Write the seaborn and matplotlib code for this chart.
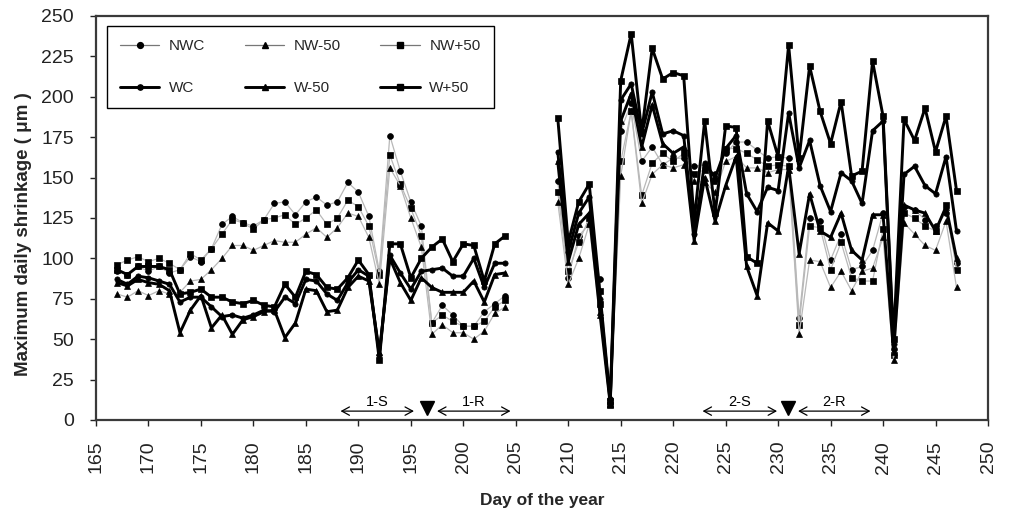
import numpy as np
import pandas as pd
import matplotlib
matplotlib.use("Agg")
import matplotlib.pyplot as plt
from matplotlib.lines import Line2D
import seaborn as sns

# ---------------- data ----------------
days_p1 = list(range(167, 205))
days_p2 = list(range(209, 248))

nwc_p1 = [92, 90, 95, 92, 95, 91,
          93, 101, 98, 106,
          121, 126, 122, 120, 124, 134, 135, 127,
          135, 138, 133, 135, 147, 141, 126, 92, 176, 154, 135, 120,
          60, 71, 65, 58, 58, 67, 72, 77]
nwp50_p1 = [96, 99, 101, 98, 100, 97,
            93, 103, 99, 106,
            115, 124, 122, 118, 124, 125, 127, 121,
            125, 130, 121, 125, 136, 132, 120, 90, 164, 146, 131, 114,
            60, 65, 61, 58, 58, 61, 70, 74]
nwm50_p1 = [78, 76, 80, 77, 80, 78,
            79, 86, 87, 93,
            100, 108, 108, 105, 108, 111, 110, 110,
            115, 119, 113, 119, 128, 126, 113, 84, 156, 145, 125, 107,
            53, 59, 54, 54, 50, 55, 66, 70]
wp50_p1 = [93, 90, 95, 95, 95, 93,
           78, 79, 81, 76, 76, 73, 72, 74, 71, 70, 84, 76,
           92, 90, 82, 81, 88, 99, 90, 37, 109, 109, 88, 100,
           107, 112, 98, 109, 108, 86, 109, 114]
wc_p1 = [87, 84, 89, 88, 86, 84,
         73, 76, 76, 70, 64, 65, 63, 65, 68, 67, 76, 72,
         87, 86, 78, 74, 85, 93, 89, 40, 102, 91, 81, 92,
         93, 94, 89, 89, 100, 82, 97, 97]
wm50_p1 = [85, 83, 87, 85, 84, 80,
           54, 68, 77, 57, 65, 53, 62, 64, 67, 68, 51, 60,
           81, 80, 67, 68, 82, 89, 86, 42, 100, 85, 74, 88,
           82, 79, 79, 79, 86, 73, 90, 91]

wp50_p2 = [187, 110, 135, 146, 80, 12, 210, 239, 178, 230, 211, 215, 213, 123,
           185, 128, 182, 181, 101, 97, 185, 163, 232, 162, 219, 191, 171,
           197, 151, 154, 222, 188, 50, 186, 173, 193, 166, 188, 142]
wc_p2 = [166, 104, 128, 138, 75, 11, 198, 208, 177, 203, 177, 179, 176, 115,
         159, 150, 168, 176, 140, 129, 144, 142, 190, 156, 173, 145, 129,
         153, 148, 134, 179, 185, 47, 152, 157, 145, 140, 163, 117]
wm50_p2 = [160, 98, 121, 128, 67, 10, 185, 202, 169, 195, 171, 165, 169, 111,
           150, 123, 145, 163, 95, 77, 122, 117, 157, 103, 140, 117, 113,
           128, 105, 99, 127, 127, 42, 133, 130, 128, 117, 132, 100]
nwc_p2 = [148, 88, 114, 121, 87, 13, 179, 196, 160, 169, 158, 162, 162, 157,
          158, 152, 165, 172, 172, 167, 162, 163, 162, 63, 125, 123, 99,
          115, 93, 95, 105, 128, 44, 132, 130, 124, 120, 128, 97]
nwp50_p2 = [141, 92, 110, 125, 72, 9, 160, 191, 139, 159, 165, 160, 165, 152,
            155, 148, 168, 168, 165, 161, 157, 158, 157, 59, 120, 119, 93,
            110, 88, 86, 86, 118, 40, 128, 125, 120, 117, 133, 93]
nwm50_p2 = [135, 84, 100, 121, 65, 10, 151, 191, 134, 152, 158, 156, 158, 148,
            147, 141, 160, 163, 156, 156, 153, 155, 155, 53, 99, 98, 82,
            92, 80, 92, 94, 113, 37, 122, 115, 108, 105, 123, 82]

series_names = ["NWC", "NW-50", "NW+50", "WC", "W-50", "W+50"]
series_p1 = {"NWC": nwc_p1, "NW-50": nwm50_p1, "NW+50": nwp50_p1,
             "WC": wc_p1, "W-50": wm50_p1, "W+50": wp50_p1}
series_p2 = {"NWC": nwc_p2, "NW-50": nwm50_p2, "NW+50": nwp50_p2,
             "WC": wc_p2, "W-50": wm50_p2, "W+50": wp50_p2}

period_labels = ["1-S", "1-R", "2-S", "2-R"]
period_starts = [188.3, 197.5, 222.8, 231.9]
period_ends = [195.3, 204.5, 229.9, 238.8]
event_days = [196.5, 230.9]

x_ticks = list(range(165, 251, 5))
y_ticks = list(range(0, 251, 25))

# ---------------- frame ----------------
rows = []
for s in series_names:
    for d, v in zip(days_p1, series_p1[s]):
        rows.append((s, "p1", d, v))
    for d, v in zip(days_p2, series_p2[s]):
        rows.append((s, "p2", d, v))
df = pd.DataFrame(rows, columns=["series", "period", "day", "value"])

# ---------------- style ----------------
sns.set_style("ticks")
plt.rcParams["font.family"] = ["Liberation Sans", "DejaVu Sans"]

markers = {"NWC": "o", "NW-50": "^", "NW+50": "s",
           "WC": "o", "W-50": "^", "W+50": "s"}
thin = {"NWC", "NW-50", "NW+50"}

fig = plt.figure(figsize=(10.10, 5.12), dpi=100)
ax = fig.add_axes([96 / 1010, 92 / 512, 892 / 1010, 404 / 512])

draw_order = ["NWC", "NW+50", "NW-50", "WC", "W+50", "W-50"]
for s in draw_order:
    sub = df[df["series"] == s]
    if s in thin:
        sns.lineplot(data=sub, x="day", y="value", units="period", estimator=None,
                     ax=ax, color="#b8b8b8", lw=0.9, marker=markers[s],
                     markersize=4.2, markerfacecolor="black",
                     markeredgecolor="black", markeredgewidth=0.5,
                     sort=True, legend=False, zorder=2)
    else:
        sns.lineplot(data=sub, x="day", y="value", units="period", estimator=None,
                     ax=ax, color="black", lw=2.1, marker=markers[s],
                     markersize=3.8, markerfacecolor="black",
                     markeredgecolor="black", markeredgewidth=0.5,
                     sort=True, legend=False, zorder=3)

# ---------------- annotations ----------------
arrow_y = 5.5
for lab, x0, x1 in zip(period_labels, period_starts, period_ends):
    ax.annotate("", xy=(x0, arrow_y), xytext=(x1, arrow_y),
                arrowprops=dict(arrowstyle="<->,head_length=0.55,head_width=0.3",
                                lw=0.9, color="black", shrinkA=0, shrinkB=0),
                zorder=4)
    ax.text((x0 + x1) / 2, 11.0, lab, ha="center", va="center", fontsize=10.5,
            color="black")
ax.plot(event_days, [7.5] * len(event_days), linestyle="none", marker="v",
        markersize=10, color="black", clip_on=False, zorder=5)

# ---------------- axes ----------------
ax.set_xlim(165, 250)
ax.set_ylim(0, 250)
ax.set_xticks(x_ticks)
ax.set_xticklabels([str(t) for t in x_ticks], rotation=90)
ax.set_yticks(y_ticks)
ax.tick_params(axis="x", labelsize=14, length=4, width=1, pad=11, colors="#222222")
ax.tick_params(axis="y", labelsize=14, length=4, width=1, pad=12, colors="#222222")
for sp in ax.spines.values():
    sp.set_visible(True)
    sp.set_color("#3a3a3a")
    sp.set_linewidth(1.6)

ax.set_xlabel("Day of the year", fontsize=12.5, fontweight="bold", labelpad=14)
ax.set_ylabel("Maximum daily shrinkage ( \u03bcm )", fontsize=13.5,
              fontweight="bold")
ax.yaxis.set_label_coords(-0.072, 0.46)

# ---------------- legend ----------------
handles = {}
for s in series_names:
    if s in thin:
        handles[s] = Line2D([], [], color="#777777", lw=0.9, marker=markers[s],
                            markersize=4.2, markerfacecolor="black",
                            markeredgecolor="black")
    else:
        handles[s] = Line2D([], [], color="black", lw=2.1, marker=markers[s],
                            markersize=3.8, markerfacecolor="black",
                            markeredgecolor="black")
leg_order = ["NWC", "WC", "NW-50", "W-50", "NW+50", "W+50"]
leg = ax.legend([handles[s] for s in leg_order], leg_order, ncol=3,
                loc="upper left", bbox_to_anchor=(0.012, 0.975),
                borderaxespad=0.0,
                fontsize=11, frameon=True, fancybox=False, edgecolor="black",
                framealpha=1, handlelength=2.6, handletextpad=0.6,
                columnspacing=2.6, labelspacing=1.85, borderpad=0.85)
leg.get_frame().set_linewidth(1.0)

fig.savefig("out.png", dpi=100)
